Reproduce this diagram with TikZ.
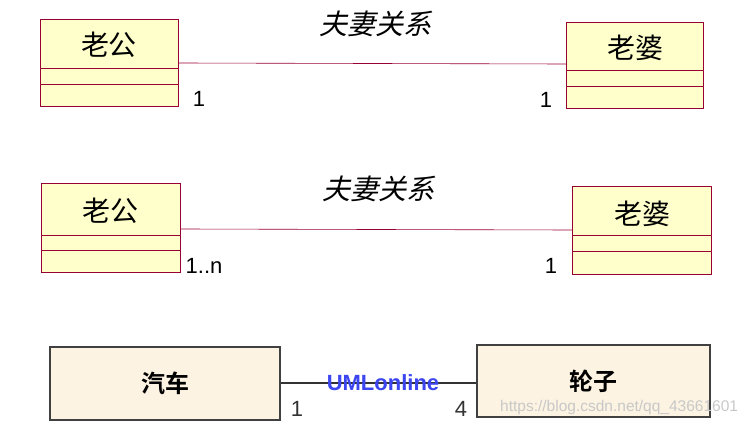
\documentclass[tikz,border=0pt]{standalone}
\usepackage{fontspec}
\setmainfont{Liberation Sans}
\newfontfamily\cjk{Noto Sans CJK SC}
\newfontfamily\cjkit[FakeSlant=0.25]{Noto Sans CJK SC}
\newfontfamily\cjkb{Noto Sans CJK SC Bold}
\definecolor{umlfill}{RGB}{255,255,204}
\definecolor{umlline}{RGB}{153,0,51}
\definecolor{carfill}{RGB}{252,243,226}
\definecolor{wm}{RGB}{200,200,200}
\definecolor{ublue}{RGB}{60,70,240}
\tikzset{
  cls/.style={draw=umlline,fill=umlfill,line width=0.8pt},
  comp/.style={draw=umlline,line width=0.8pt},
  assoc/.style={draw=umlline,line width=0.6pt},
  clsname/.style={font=\cjk\fontsize{28}{30}\selectfont},
  rel/.style={font=\cjkit\fontsize{28}{30}\selectfont},
  mult/.style={font=\fontsize{22}{24}\selectfont},
  box/.style={draw=black!75,fill=carfill,line width=1.2pt},
}
\begin{document}
\begin{tikzpicture}[x=1pt,y=-1pt]
\useasboundingbox (0,0) rectangle (756,425);
% row 1
\draw[cls] (40,19) rectangle (178,106);
\draw[comp] (40,68) -- (178,68) (40,84) -- (178,84);
\node[clsname] (a1) at (109,45) {老公};
\draw[cls] (566,22) rectangle (703,108);
\draw[comp] (566,70) -- (703,70) (566,86) -- (703,86);
\node[clsname] (b1) at (635,48) {老婆};
\coordinate (a1r) at (178,63);
\coordinate (b1l) at (566,64);
\draw[assoc] (a1r) -- (b1l);
\node[rel] at (375,24) {夫妻关系};
\node[mult] at (199,99) {1};
\node[mult] at (546,100) {1};
% row 2
\draw[cls] (41,183) rectangle (180,272);
\draw[comp] (41,235) -- (180,235) (41,250) -- (180,250);
\node[clsname] (a2) at (110,211) {老公};
\draw[cls] (572,186) rectangle (711,274);
\draw[comp] (572,235) -- (711,235) (572,251) -- (711,251);
\node[clsname] (b2) at (642,214) {老婆};
\coordinate (a2r) at (180,229);
\coordinate (b2l) at (572,230);
\draw[assoc] (a2r) -- (b2l);
\node[rel] at (378,189) {夫妻关系};
\node[mult] at (204,266) {1..n};
\node[mult] at (551,266) {1};
% row 3
\node[box,minimum width=230pt,minimum height=73pt,inner sep=0pt,font=\cjkb\fontsize{24}{26}\selectfont] (car) at (165,383.5) {汽车};
\node[box,minimum width=233pt,minimum height=72pt,inner sep=0pt,font=\cjkb\fontsize{24}{26}\selectfont] (wheel) at (593.5,381) {轮子};
\draw[black!80,line width=1.2pt] (car.east |- 0,383) -- (wheel.west |- 0,383);
\node[text=ublue,font=\bfseries\fontsize{22}{24}\selectfont,inner sep=0pt] at (383,383) {UMLonline};
\node[mult,text=black!80] at (297,409) {1};
\node[mult,text=black!80] at (461,409) {4};
\node[text=wm,font=\fontsize{15.5}{17}\selectfont,anchor=west,inner sep=0pt] at (500,407) {https://blog.csdn.net/qq\_43661601};
\end{tikzpicture}
\end{document}
